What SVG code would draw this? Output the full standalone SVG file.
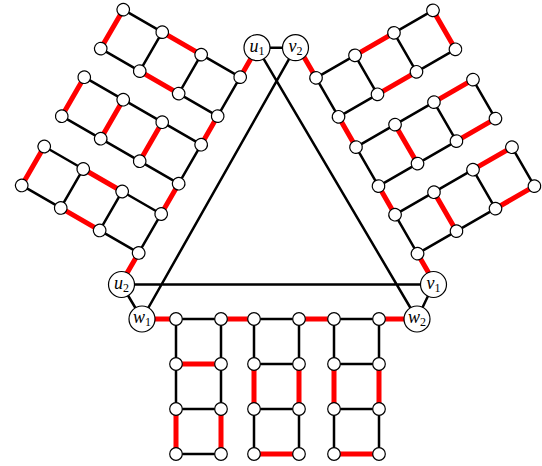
<svg xmlns="http://www.w3.org/2000/svg" width="542" height="466" viewBox="0 0 542 466">
<style>
.k{fill:none;stroke:#000;stroke-width:2.5}
.r{fill:none;stroke:#f00;stroke-width:5}
.n{fill:#fff;stroke:#000;stroke-width:1.2}
.lb{font-family:"Liberation Serif","DejaVu Serif",serif;font-size:18px;font-style:italic;fill:#000}
.sb{font-size:12px;font-style:normal}
</style>
<rect width="542" height="466" fill="#fff"/>
<g id="connectors">
  <path id="triangle" class="k" d="M257 47.7H295.5 M257 47.7L417 319 M295.5 47.7L142 319 M121.5 284.5H433.5 M121.5 284.5L142 319 M433.5 284.5L417 319"/>
  <g id="edges-bottom">
    <path class="k" d="M176 319H221 M254 319H299 M334 319H379 M176 319V409 M221 319V409 M176 409H221 M176 454H221 M254 319V364 M299 319V364 M254 364H299 M254 409H299 M254 409V454 M299 409V454 M334 319V364 M379 319V364 M334 364H379 M334 409H379 M334 409V454 M379 409V454"/>
    <path class="r" d="M142 319H176 M221 319H254 M299 319H334 M379 319H417 M176 364H221 M176 409V454 M221 409V454 M254 364V409 M299 364V409 M254 454H299 M334 364V409 M379 364V409 M334 454H379"/>
  </g>
  <g id="edges-left" transform="rotate(120 277.9 216.6)">
    <path class="k" d="M176 319H221 M254 319H299 M334 319H379 M176 319V364 M221 319V364 M176 364H221 M176 409H221 M176 409V454 M221 409V454 M254 319V454 M299 319V454 M334 319V364 M379 319V364 M334 364H379 M334 409H379 M334 409V454 M379 409V454"/>
    <path class="r" d="M142 319H176 M221 319H254 M299 319H334 M379 319H417 M176 364V409 M221 364V409 M176 454H221 M254 364H299 M254 409H299 M254 454H299 M334 364V409 M379 364V409 M334 454H379"/>
  </g>
  <g id="edges-right" transform="rotate(-120 277.9 216.6)">
    <path class="k" d="M176 319H221 M254 319H299 M334 319H379 M176 319V409 M221 319V409 M176 409H221 M176 454H221 M254 319V409 M299 319V409 M254 409H299 M254 454H299 M334 319V364 M379 319V364 M334 364H379 M334 409H379 M334 409V454 M379 409V454"/>
    <path class="r" d="M142 319H176 M221 319H254 M299 319H334 M379 319H417 M176 364H221 M176 409V454 M221 409V454 M254 364H299 M254 409V454 M299 409V454 M334 364V409 M379 364V409 M334 454H379"/>
  </g>
</g>
<g id="nodes-bottom">
  <g id="b1a0"><circle class="n" cx="176" cy="319" r="6.3"/></g>
  <g id="b1b0"><circle class="n" cx="221" cy="319" r="6.3"/></g>
  <g id="b1a1"><circle class="n" cx="176" cy="364" r="6.3"/></g>
  <g id="b1b1"><circle class="n" cx="221" cy="364" r="6.3"/></g>
  <g id="b1a2"><circle class="n" cx="176" cy="409" r="6.3"/></g>
  <g id="b1b2"><circle class="n" cx="221" cy="409" r="6.3"/></g>
  <g id="b1a3"><circle class="n" cx="176" cy="454" r="6.3"/></g>
  <g id="b1b3"><circle class="n" cx="221" cy="454" r="6.3"/></g>
  <g id="b2a0"><circle class="n" cx="254" cy="319" r="6.3"/></g>
  <g id="b2b0"><circle class="n" cx="299" cy="319" r="6.3"/></g>
  <g id="b2a1"><circle class="n" cx="254" cy="364" r="6.3"/></g>
  <g id="b2b1"><circle class="n" cx="299" cy="364" r="6.3"/></g>
  <g id="b2a2"><circle class="n" cx="254" cy="409" r="6.3"/></g>
  <g id="b2b2"><circle class="n" cx="299" cy="409" r="6.3"/></g>
  <g id="b2a3"><circle class="n" cx="254" cy="454" r="6.3"/></g>
  <g id="b2b3"><circle class="n" cx="299" cy="454" r="6.3"/></g>
  <g id="b3a0"><circle class="n" cx="334" cy="319" r="6.3"/></g>
  <g id="b3b0"><circle class="n" cx="379" cy="319" r="6.3"/></g>
  <g id="b3a1"><circle class="n" cx="334" cy="364" r="6.3"/></g>
  <g id="b3b1"><circle class="n" cx="379" cy="364" r="6.3"/></g>
  <g id="b3a2"><circle class="n" cx="334" cy="409" r="6.3"/></g>
  <g id="b3b2"><circle class="n" cx="379" cy="409" r="6.3"/></g>
  <g id="b3a3"><circle class="n" cx="334" cy="454" r="6.3"/></g>
  <g id="b3b3"><circle class="n" cx="379" cy="454" r="6.3"/></g>
</g>
<g id="nodes-left" transform="rotate(120 277.9 216.6)">
  <g id="l1a0"><circle class="n" cx="176" cy="319" r="6.3"/></g>
  <g id="l1b0"><circle class="n" cx="221" cy="319" r="6.3"/></g>
  <g id="l1a1"><circle class="n" cx="176" cy="364" r="6.3"/></g>
  <g id="l1b1"><circle class="n" cx="221" cy="364" r="6.3"/></g>
  <g id="l1a2"><circle class="n" cx="176" cy="409" r="6.3"/></g>
  <g id="l1b2"><circle class="n" cx="221" cy="409" r="6.3"/></g>
  <g id="l1a3"><circle class="n" cx="176" cy="454" r="6.3"/></g>
  <g id="l1b3"><circle class="n" cx="221" cy="454" r="6.3"/></g>
  <g id="l2a0"><circle class="n" cx="254" cy="319" r="6.3"/></g>
  <g id="l2b0"><circle class="n" cx="299" cy="319" r="6.3"/></g>
  <g id="l2a1"><circle class="n" cx="254" cy="364" r="6.3"/></g>
  <g id="l2b1"><circle class="n" cx="299" cy="364" r="6.3"/></g>
  <g id="l2a2"><circle class="n" cx="254" cy="409" r="6.3"/></g>
  <g id="l2b2"><circle class="n" cx="299" cy="409" r="6.3"/></g>
  <g id="l2a3"><circle class="n" cx="254" cy="454" r="6.3"/></g>
  <g id="l2b3"><circle class="n" cx="299" cy="454" r="6.3"/></g>
  <g id="l3a0"><circle class="n" cx="334" cy="319" r="6.3"/></g>
  <g id="l3b0"><circle class="n" cx="379" cy="319" r="6.3"/></g>
  <g id="l3a1"><circle class="n" cx="334" cy="364" r="6.3"/></g>
  <g id="l3b1"><circle class="n" cx="379" cy="364" r="6.3"/></g>
  <g id="l3a2"><circle class="n" cx="334" cy="409" r="6.3"/></g>
  <g id="l3b2"><circle class="n" cx="379" cy="409" r="6.3"/></g>
  <g id="l3a3"><circle class="n" cx="334" cy="454" r="6.3"/></g>
  <g id="l3b3"><circle class="n" cx="379" cy="454" r="6.3"/></g>
</g>
<g id="nodes-right" transform="rotate(-120 277.9 216.6)">
  <g id="r1a0"><circle class="n" cx="176" cy="319" r="6.3"/></g>
  <g id="r1b0"><circle class="n" cx="221" cy="319" r="6.3"/></g>
  <g id="r1a1"><circle class="n" cx="176" cy="364" r="6.3"/></g>
  <g id="r1b1"><circle class="n" cx="221" cy="364" r="6.3"/></g>
  <g id="r1a2"><circle class="n" cx="176" cy="409" r="6.3"/></g>
  <g id="r1b2"><circle class="n" cx="221" cy="409" r="6.3"/></g>
  <g id="r1a3"><circle class="n" cx="176" cy="454" r="6.3"/></g>
  <g id="r1b3"><circle class="n" cx="221" cy="454" r="6.3"/></g>
  <g id="r2a0"><circle class="n" cx="254" cy="319" r="6.3"/></g>
  <g id="r2b0"><circle class="n" cx="299" cy="319" r="6.3"/></g>
  <g id="r2a1"><circle class="n" cx="254" cy="364" r="6.3"/></g>
  <g id="r2b1"><circle class="n" cx="299" cy="364" r="6.3"/></g>
  <g id="r2a2"><circle class="n" cx="254" cy="409" r="6.3"/></g>
  <g id="r2b2"><circle class="n" cx="299" cy="409" r="6.3"/></g>
  <g id="r2a3"><circle class="n" cx="254" cy="454" r="6.3"/></g>
  <g id="r2b3"><circle class="n" cx="299" cy="454" r="6.3"/></g>
  <g id="r3a0"><circle class="n" cx="334" cy="319" r="6.3"/></g>
  <g id="r3b0"><circle class="n" cx="379" cy="319" r="6.3"/></g>
  <g id="r3a1"><circle class="n" cx="334" cy="364" r="6.3"/></g>
  <g id="r3b1"><circle class="n" cx="379" cy="364" r="6.3"/></g>
  <g id="r3a2"><circle class="n" cx="334" cy="409" r="6.3"/></g>
  <g id="r3b2"><circle class="n" cx="379" cy="409" r="6.3"/></g>
  <g id="r3a3"><circle class="n" cx="334" cy="454" r="6.3"/></g>
  <g id="r3b3"><circle class="n" cx="379" cy="454" r="6.3"/></g>
</g>
<g id="u1"><circle class="n" cx="257" cy="47.7" r="13"/><text class="lb" x="257" y="51.7" text-anchor="middle">u<tspan class="sb" dy="3.3">1</tspan></text></g>
<g id="v2"><circle class="n" cx="295.5" cy="47.7" r="13"/><text class="lb" x="295.5" y="51.7" text-anchor="middle">v<tspan class="sb" dy="3.3">2</tspan></text></g>
<g id="u2"><circle class="n" cx="121.5" cy="284.5" r="13"/><text class="lb" x="121.5" y="288.5" text-anchor="middle">u<tspan class="sb" dy="3.3">2</tspan></text></g>
<g id="v1"><circle class="n" cx="433.5" cy="284.5" r="13"/><text class="lb" x="433.5" y="288.5" text-anchor="middle">v<tspan class="sb" dy="3.3">1</tspan></text></g>
<g id="w1"><circle class="n" cx="142" cy="319" r="13"/><text class="lb" x="142" y="323" text-anchor="middle">w<tspan class="sb" dy="3.3">1</tspan></text></g>
<g id="w2"><circle class="n" cx="417" cy="319" r="13"/><text class="lb" x="417" y="323" text-anchor="middle">w<tspan class="sb" dy="3.3">2</tspan></text></g>
</svg>
